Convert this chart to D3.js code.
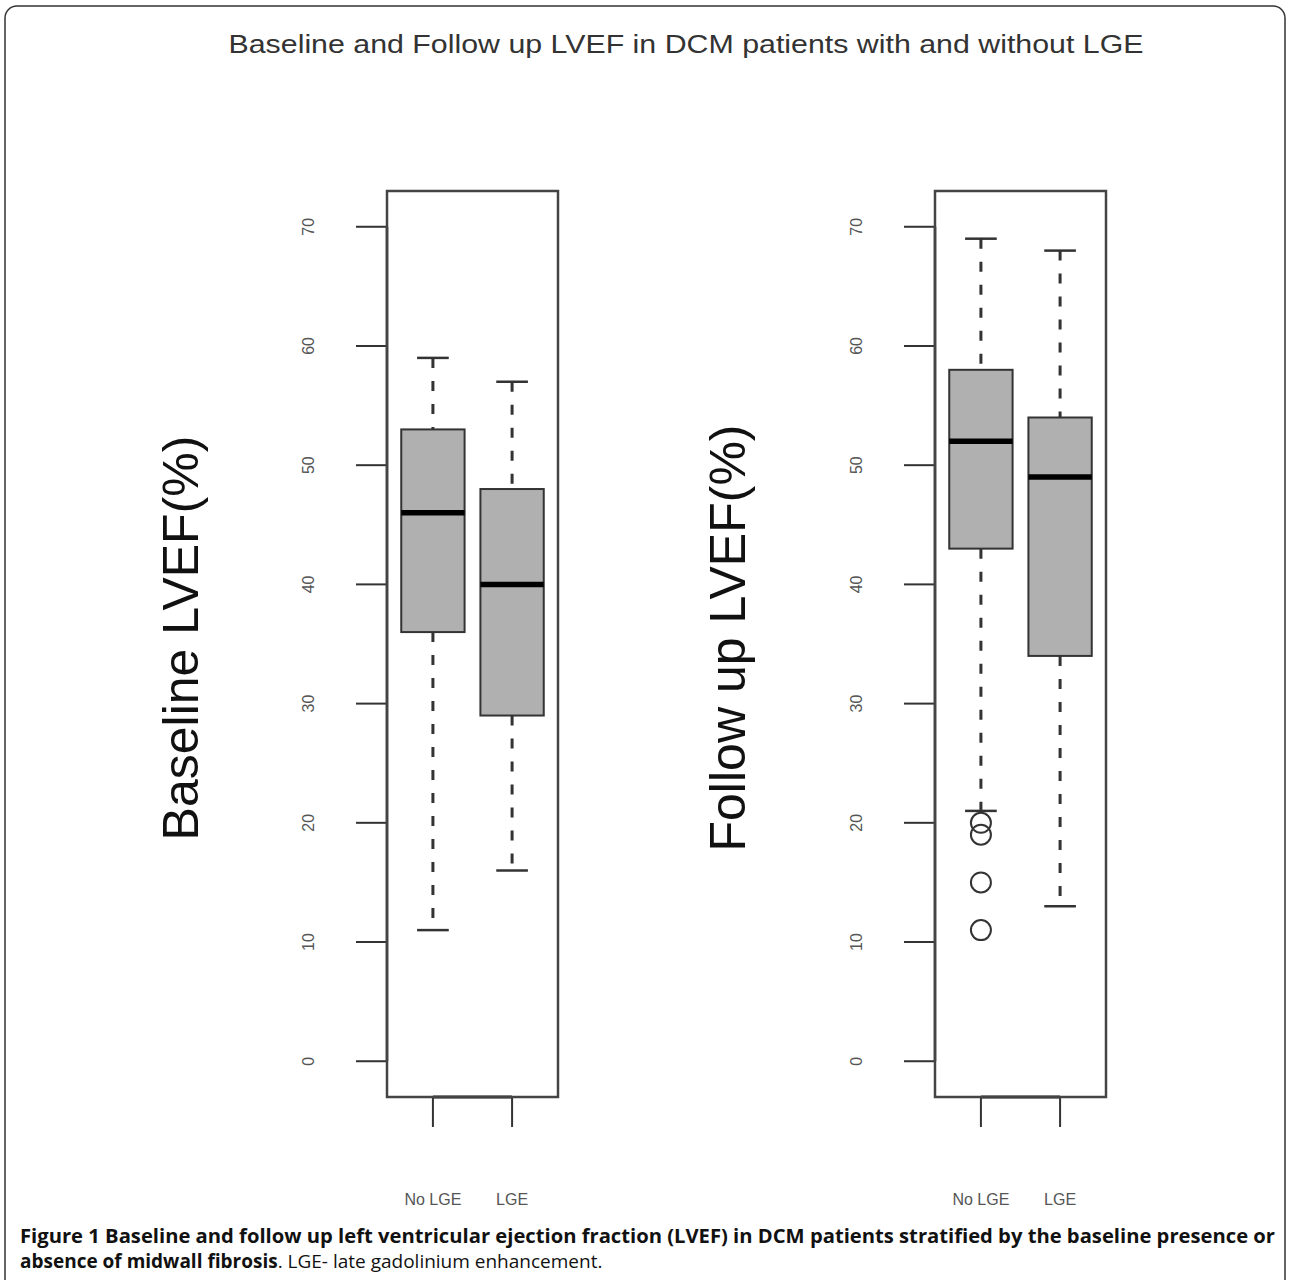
<!DOCTYPE html>
<html>
<head>
  <meta charset="utf-8">
  <title>LVEF boxplots</title>
  <script src="https://d3js.org/d3.v7.min.js"></script>
  <style>
    body { margin: 0; background: #fff; }
    svg text { font-family: "Liberation Sans", Arial, sans-serif; }
  </style>
</head>
<body>
<script>
// groups shown on each panel
var groups = ["No LGE", "LGE"];
// five number summaries: [lower whisker, q1, median, q3, upper whisker]
var baselineStats = [[11, 36, 46, 53, 59], [16, 29, 40, 48, 57]];
var followStats = [[21, 43, 52, 58, 69], [13, 34, 49, 54, 68]];
var baselineOutliers = [[], []];
var followOutliers = [[20, 19, 15, 11], []];
var yTicks = [0, 10, 20, 30, 40, 50, 60, 70];

var W = 1289, H = 1280;
var svg = d3.select("body").append("svg")
  .attr("width", W).attr("height", H);

// outer frame of the figure
svg.append("rect")
  .attr("x", 5).attr("y", 6)
  .attr("width", W - 9).attr("height", H + 20)
  .attr("rx", 12)
  .attr("fill", "none").attr("stroke", "#333").attr("stroke-width", 1.5);

svg.append("text")
  .attr("x", 686).attr("y", 53)
  .attr("text-anchor", "middle")
  .attr("font-size", 25)
  .attr("fill", "#333")
  .attr("textLength", 915).attr("lengthAdjust", "spacingAndGlyphs")
  .text("Baseline and Follow up LVEF in DCM patients with and without LGE");

var y = d3.scaleLinear().domain([-3, 73]).range([1097, 191]);

function panel(left, stats, outliers, ylabel, labelX) {
  var right = left + 171;
  var x = d3.scaleLinear().domain([0.42, 2.58]).range([left, right]);
  var g = svg.append("g");
  var boxW = 0.8 * (x(1) - x(0));
  var capW = boxW / 2;

  // y label
  g.append("text")
    .attr("transform", "translate(" + labelX + ",638) rotate(-90)")
    .attr("text-anchor", "middle")
    .attr("font-size", 50)
    .attr("fill", "#111")
    .text(ylabel);

  // y axis
  g.append("line")
    .attr("x1", left).attr("x2", left)
    .attr("y1", y(0)).attr("y2", y(70))
    .attr("stroke", "#222").attr("stroke-width", 2.5);
  g.selectAll(".ytick").data(yTicks).enter().append("line")
    .attr("x1", left - 31).attr("x2", left)
    .attr("y1", function(d) { return y(d); })
    .attr("y2", function(d) { return y(d); })
    .attr("stroke", "#333").attr("stroke-width", 2);
  g.selectAll(".ylab").data(yTicks).enter().append("text")
    .attr("transform", function(d) { return "translate(" + (left - 73) + "," + y(d) + ") rotate(-90)"; })
    .attr("text-anchor", "middle")
    .attr("font-size", 16)
    .attr("fill", "#555")
    .text(function(d) { return d; });

  // x axis
  g.append("line")
    .attr("x1", x(1)).attr("x2", x(2))
    .attr("y1", 1097).attr("y2", 1097)
    .attr("stroke", "#222").attr("stroke-width", 3);
  g.selectAll(".xtick").data(groups).enter().append("line")
    .attr("x1", function(d, i) { return x(i + 1); })
    .attr("x2", function(d, i) { return x(i + 1); })
    .attr("y1", 1097).attr("y2", 1127)
    .attr("stroke", "#333").attr("stroke-width", 2);
  g.selectAll(".xlab").data(groups).enter().append("text")
    .attr("x", function(d, i) { return x(i + 1); })
    .attr("y", 1205)
    .attr("text-anchor", "middle")
    .attr("font-size", 16)
    .attr("fill", "#555")
    .text(function(d) { return d; });

  var box = g.selectAll(".box").data(stats).enter().append("g");
  // dashed whiskers
  box.append("line")
    .attr("x1", function(d, i) { return x(i + 1); })
    .attr("x2", function(d, i) { return x(i + 1); })
    .attr("y1", function(d) { return y(d[4]); })
    .attr("y2", function(d) { return y(d[3]); })
    .attr("stroke", "#333").attr("stroke-width", 3).attr("stroke-dasharray", "10,13");
  box.append("line")
    .attr("x1", function(d, i) { return x(i + 1); })
    .attr("x2", function(d, i) { return x(i + 1); })
    .attr("y1", function(d) { return y(d[1]); })
    .attr("y2", function(d) { return y(d[0]); })
    .attr("stroke", "#333").attr("stroke-width", 3).attr("stroke-dasharray", "10,13");
  // caps
  [0, 4].forEach(function(k) {
    box.append("line")
      .attr("x1", function(d, i) { return x(i + 1) - capW / 2; })
      .attr("x2", function(d, i) { return x(i + 1) + capW / 2; })
      .attr("y1", function(d) { return y(d[k]); })
      .attr("y2", function(d) { return y(d[k]); })
      .attr("stroke", "#333").attr("stroke-width", 2.5);
  });
  box.append("rect")
    .attr("x", function(d, i) { return x(i + 1) - boxW / 2; })
    .attr("width", boxW)
    .attr("y", function(d) { return y(d[3]); })
    .attr("height", function(d) { return y(d[1]) - y(d[3]); })
    .attr("fill", "#b0b0b0").attr("stroke", "#333").attr("stroke-width", 2);
  box.append("line")
    .attr("x1", function(d, i) { return x(i + 1) - boxW / 2; })
    .attr("x2", function(d, i) { return x(i + 1) + boxW / 2; })
    .attr("y1", function(d) { return y(d[2]); })
    .attr("y2", function(d) { return y(d[2]); })
    .attr("stroke", "#000").attr("stroke-width", 5.5);

  outliers.forEach(function(list, i) {
    g.selectAll(".out" + i).data(list).enter().append("circle")
      .attr("cx", x(i + 1))
      .attr("cy", function(d) { return y(d); })
      .attr("r", 10)
      .attr("fill", "none").attr("stroke", "#333").attr("stroke-width", 2);
  });

  // plot frame
  g.append("rect")
    .attr("x", left).attr("y", 191)
    .attr("width", right - left).attr("height", 1097 - 191)
    .attr("fill", "none").attr("stroke", "#444").attr("stroke-width", 2.5);
}

panel(387, baselineStats, baselineOutliers, "Baseline LVEF(%)", 198);
panel(935, followStats, followOutliers, "Follow up LVEF(%)", 745);

// caption
var cap = svg.append("g").attr("font-size", 19).attr("fill", "#111");
cap.append("text")
  .attr("x", 20).attr("y", 1243)
  .attr("font-weight", "bold")
  .attr("textLength", 1255).attr("lengthAdjust", "spacingAndGlyphs")
  .style("font-family", "'Open Sans', sans-serif")
  .text("Figure 1 Baseline and follow up left ventricular ejection fraction (LVEF) in DCM patients stratified by the baseline presence or");
var line2 = cap.append("text")
  .attr("x", 20).attr("y", 1268)
  .style("font-family", "'Open Sans', sans-serif");
line2.append("tspan").attr("font-weight", "bold").text("absence of midwall fibrosis");
line2.append("tspan").text(". LGE- late gadolinium enhancement.");
</script>
</body>
</html>
